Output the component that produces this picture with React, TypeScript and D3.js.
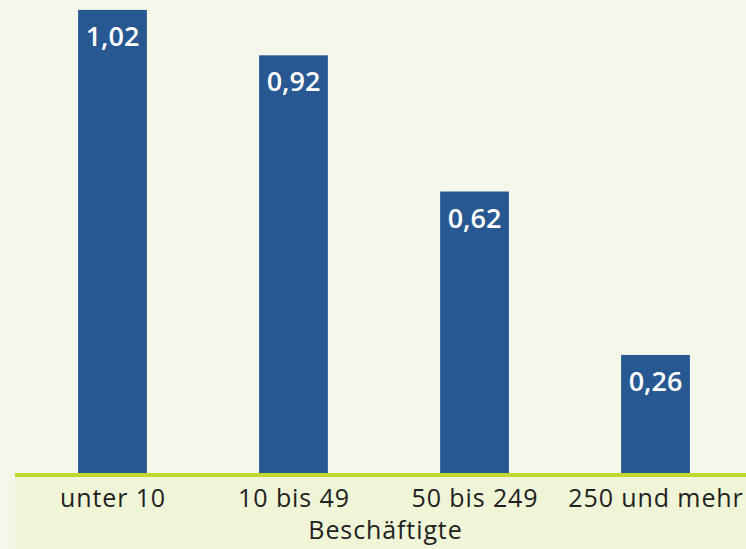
import React from 'react';
import * as d3 from 'd3';

const categories = ['unter 10', '10 bis 49', '50 bis 249', '250 und mehr'];
const values = [1.02, 0.92, 0.62, 0.26];
const axisTitle = 'Beschäftigte';

const width = 746;
const height = 549;
const baseline = 473;

export default function App() {
  const x = d3.scaleBand<string>()
    .domain(categories)
    .range([22, 746])
    .paddingInner(0.62)
    .paddingOuter(0.31);

  const y = d3.scaleLinear().domain([0, 1]).range([baseline, baseline - 454]);
  const fmt = (v: number) => v.toFixed(2).replace('.', ',');

  return (
    <svg width={width} height={height}
      style={{ position: 'fixed', left: 0, top: 0, display: 'block', fontFamily: '"Open Sans", sans-serif' }}>
      <rect x={0} y={0} width={width} height={height} fill="#f5f7ea" />
      <rect x={15} y={baseline} width={width - 15} height={height - baseline} fill="#eff5d6" />
      {categories.map((c, i) => (
        <g key={c}>
          <rect x={x(c)} y={y(values[i])} width={x.bandwidth()} height={baseline - y(values[i])} fill="#285892" />
          <text x={x(c)! + x.bandwidth() / 2} y={y(values[i]) + 36} textAnchor="middle"
            fill="#ffffff" fontSize={27} fontWeight={600}>{fmt(values[i])}</text>
          <text x={x(c)! + x.bandwidth() / 2 + 0.5} y={507} textAnchor="middle"
            fill="#222222" fontSize={25} letterSpacing={0.9}>{c}</text>
        </g>
      ))}
      <line x1={15} x2={width} y1={baseline + 2} y2={baseline + 2} stroke="#c3d82e" strokeWidth={4} />
      <text x={385.5} y={539} textAnchor="middle" fill="#222222" fontSize={25} letterSpacing={0.9}>{axisTitle}</text>
    </svg>
  );
}
